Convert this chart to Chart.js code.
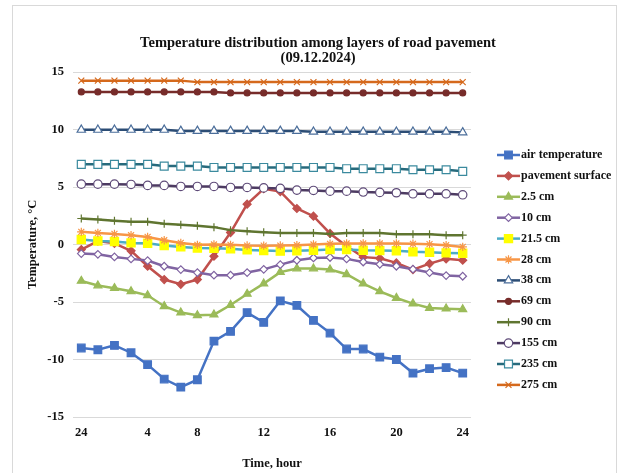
<!DOCTYPE html>
<html>
<head>
<meta charset="utf-8">
<script src="https://cdn.jsdelivr.net/npm/chart.js@4/dist/chart.umd.min.js"></script>
<style>
  html, body { margin: 0; padding: 0; background: #ffffff; }
  #wrap { width: 620px; height: 473px; position: relative; }
</style>
</head>
<body>
<div id="wrap"><canvas id="chart" width="620" height="473"></canvas></div>
<script>
// Hourly readings, 24:00 of the previous day through 24:00
const timeLabels = ['24', '', '', '', '4', '', '', '8', '', '', '', '12', '', '', '', '16', '', '', '', '20', '', '', '', '24'];

const seriesNames = ['air temperature', 'pavement surface', '2.5 cm', '10 cm', '21.5 cm', '28 cm',
                     '38 cm', '69 cm', '90 cm', '155 cm', '235 cm', '275 cm'];

const airTemperature = [-9.0, -9.15, -8.77, -9.41, -10.45, -11.7, -12.4, -11.76, -8.4, -7.55, -5.92, -6.77,
                        -4.9, -5.3, -6.6, -7.7, -9.09, -9.09, -9.79, -10.0, -11.18, -10.8, -10.7, -11.18];
const pavementSurface = [-0.44, 0.3, 0.1, -0.55, -1.89, -3.05, -3.46, -3.05, -1.02, 1.04, 3.51, 4.85,
                         4.6, 3.13, 2.46, 0.96, -0.15, -1.1, -1.2, -1.6, -2.18, -1.66, -1.25, -1.37];
const depth2_5 = [-3.17, -3.57, -3.8, -4.07, -4.42, -5.37, -5.92, -6.16, -6.1, -5.26, -4.3, -3.4,
                  -2.4, -2.09, -2.09, -2.18, -2.59, -3.4, -4.07, -4.65, -5.14, -5.52, -5.58, -5.64];
const depth10 = [-0.79, -0.85, -1.08, -1.25, -1.4, -1.89, -2.18, -2.44, -2.67, -2.67, -2.44, -2.16,
                 -1.75, -1.37, -1.17, -1.13, -1.25, -1.52, -1.72, -1.89, -2.15, -2.44, -2.7, -2.76];
const depth21_5 = [0.44, 0.31, 0.26, 0.14, 0.11, -0.09, -0.21, -0.3, -0.33, -0.38, -0.47, -0.53,
                   -0.57, -0.55, -0.5, -0.44, -0.44, -0.5, -0.52, -0.55, -0.64, -0.67, -0.73, -0.76];
const depth28 = [1.1, 1.01, 0.92, 0.81, 0.66, 0.37, 0.14, -0.03, 0.0, -0.03, -0.09, -0.1,
                 -0.09, -0.06, 0.0, 0.06, 0.09, 0.09, 0.09, 0.09, 0.06, 0.03, -0.06, -0.21];
const depth38 = [9.97, 9.97, 9.97, 9.97, 9.97, 9.97, 9.88, 9.88, 9.88, 9.88, 9.88, 9.88,
                 9.88, 9.88, 9.8, 9.8, 9.8, 9.8, 9.8, 9.8, 9.8, 9.8, 9.8, 9.75];
const depth69 = [13.27, 13.27, 13.27, 13.27, 13.27, 13.27, 13.27, 13.27, 13.27, 13.18, 13.18, 13.18,
                 13.18, 13.18, 13.18, 13.18, 13.18, 13.18, 13.18, 13.18, 13.18, 13.18, 13.18, 13.18];
const depth90 = [2.26, 2.18, 2.06, 1.97, 1.97, 1.8, 1.71, 1.62, 1.51, 1.25, 1.16, 1.07,
                 1.01, 1.01, 1.01, 0.92, 1.01, 1.01, 1.01, 0.9, 0.9, 0.9, 0.81, 0.81];
const depth155 = [5.25, 5.25, 5.25, 5.22, 5.14, 5.14, 5.05, 5.05, 5.05, 4.96, 4.96, 4.92,
                  4.88, 4.73, 4.7, 4.64, 4.64, 4.56, 4.53, 4.5, 4.41, 4.41, 4.41, 4.32];
const depth235 = [6.97, 6.97, 6.97, 6.97, 6.97, 6.82, 6.82, 6.82, 6.7, 6.7, 6.7, 6.7,
                  6.7, 6.7, 6.7, 6.7, 6.59, 6.59, 6.59, 6.59, 6.5, 6.5, 6.5, 6.36];
const depth275 = [14.25, 14.25, 14.25, 14.25, 14.25, 14.25, 14.25, 14.12, 14.12, 14.12, 14.12, 14.12,
                  14.12, 14.12, 14.12, 14.12, 14.12, 14.12, 14.12, 14.12, 14.12, 14.12, 14.12, 14.12];

const yTicks = [-15, -10, -5, 0, 5, 10, 15];

const SERIF = "'Liberation Serif', 'Times New Roman', serif";

// Line colour, marker shape, marker size, marker fill and outline per series
const styles = [
  { line: '#4472c4', shape: 'rect',     r: 5.4, fill: '#4472c4', edge: '#4472c4' },
  { line: '#c0504d', shape: 'rectRot',  r: 4.0, fill: '#c0504d', edge: '#c0504d' },
  { line: '#9bbb59', shape: 'triangle', r: 4.6, fill: '#9bbb59', edge: '#9bbb59' },
  { line: '#8064a2', shape: 'rectRot',  r: 3.8, fill: '#ffffff', edge: '#8064a2' },
  { line: '#4bacc6', shape: 'rect',     r: 5.8, fill: '#ffff00', edge: '#ffff00' },
  { line: '#f79646', shape: 'star',     r: 4.2, fill: '#f79646', edge: '#f79646' },
  { line: '#2c4d75', shape: 'triangle', r: 4.8, fill: '#ffffff', edge: '#4a6d9a' },
  { line: '#772c2a', shape: 'circle',   r: 3.0, fill: '#772c2a', edge: '#772c2a' },
  { line: '#5f7530', shape: 'cross',    r: 4.0, fill: '#5f7530', edge: '#5f7530' },
  { line: '#4d3b62', shape: 'circle',   r: 4.2, fill: '#ffffff', edge: '#5e4a78' },
  { line: '#276a7c', shape: 'rect',     r: 5.6, fill: '#ffffff', edge: '#3b8a9e' },
  { line: '#d5691c', shape: 'crossRot', r: 4.2, fill: '#d5691c', edge: '#d5691c' }
];

const seriesValues = [airTemperature, pavementSurface, depth2_5, depth10, depth21_5, depth28,
                      depth38, depth69, depth90, depth155, depth235, depth275];

const datasets = seriesValues.map((values, i) => ({
  label: seriesNames[i],
  data: values,
  borderColor: styles[i].line,
  backgroundColor: styles[i].fill,
  borderWidth: 2.5,
  tension: 0,
  pointStyle: styles[i].shape,
  pointRadius: styles[i].r,
  pointBackgroundColor: styles[i].fill,
  pointBorderColor: styles[i].edge,
  pointBorderWidth: 1.2,
  // first series sits lowest, later series are painted over it
  order: seriesValues.length - i
}));

// White page with a thin grey outline around the chart
const framePlugin = {
  id: 'frame',
  beforeDraw(chart) {
    const ctx = chart.ctx;
    ctx.save();
    ctx.fillStyle = '#ffffff';
    ctx.fillRect(0, 0, chart.width, chart.height);
    ctx.strokeStyle = '#d9d9d9';
    ctx.lineWidth = 1;
    ctx.strokeRect(12.5, 5.5, 604, 490);
    ctx.restore();
  }
};

// Legend to the right of the plot: short line with the series marker, then the name
const sideLegend = {
  id: 'sideLegend',
  afterDraw(chart, args, opts) {
    const ctx = chart.ctx;
    const x0 = chart.chartArea.right + opts.offsetX;
    ctx.save();
    ctx.font = 'bold 12px ' + SERIF;
    ctx.textBaseline = 'middle';
    ctx.textAlign = 'left';
    chart.data.datasets.forEach((ds, i) => {
      const y = opts.top + i * opts.step;
      ctx.strokeStyle = ds.borderColor;
      ctx.lineWidth = 2.5;
      ctx.beginPath();
      ctx.moveTo(x0, y);
      ctx.lineTo(x0 + opts.sample, y);
      ctx.stroke();
      ctx.fillStyle = ds.pointBackgroundColor;
      ctx.strokeStyle = ds.pointBorderColor;
      ctx.lineWidth = 1.2;
      Chart.helpers.drawPoint(ctx, { pointStyle: ds.pointStyle, radius: ds.pointRadius, borderWidth: 1.2, rotation: 0 },
                              x0 + opts.sample / 2, y);
      ctx.fillStyle = '#111111';
      ctx.fillText(ds.label, x0 + opts.sample + 1, y);
    });
    ctx.restore();
  }
};

new Chart(document.getElementById('chart'), {
  type: 'line',
  data: { labels: timeLabels, datasets },
  plugins: [framePlugin, sideLegend],
  options: {
    responsive: false,
    animation: false,
    layout: { padding: { left: 16, right: 0, top: 0, bottom: 0 } },
    plugins: {
      legend: { display: false },
      tooltip: { enabled: false },
      title: {
        display: true,
        text: ['Temperature distribution among layers of road pavement', '(09.12.2024)'],
        color: '#111111',
        font: { family: SERIF, size: 14.5, weight: 'bold', lineHeight: 1.0 },
        padding: { top: 36, bottom: 7 }
      },
      sideLegend: { offsetX: 26, top: 155, step: 20.9, sample: 23 }
    },
    scales: {
      x: {
        type: 'category',
        offset: true,
        grid: { display: false, drawTicks: false },
        border: { display: false },
        ticks: {
          autoSkip: false, maxRotation: 0, padding: 8, color: '#111111',
          font: { family: SERIF, size: 12.5, weight: 'bold' }
        },
        title: {
          display: true, text: 'Time, hour', color: '#111111',
          font: { family: SERIF, size: 12.5, weight: 'bold' },
          padding: { top: 0, bottom: 2 }
        },
        afterFit(scale) { scale.height = 56; }
      },
      y: {
        min: -15, max: 15,
        afterBuildTicks(scale) { scale.ticks = yTicks.map(v => ({ value: v })); },
        grid: { color: '#d9d9d9', lineWidth: 1, drawTicks: false },
        border: { display: false },
        ticks: {
          padding: 9, color: '#111111',
          font: { family: SERIF, size: 12.5, weight: 'bold' }
        },
        title: {
          display: true, text: 'Temperature, °C', color: '#111111',
          font: { family: SERIF, size: 12.5, weight: 'bold' },
          padding: { top: 9, bottom: 0 }
        },
        afterFit(scale) { scale.width = 57; }
      },
      legendSpace: {
        type: 'linear',
        position: 'right',
        display: true,
        grid: { display: false, drawTicks: false },
        border: { display: false },
        ticks: { display: false },
        afterFit(scale) { scale.width = 149; }
      }
    }
  }
});
</script>
</body>
</html>
